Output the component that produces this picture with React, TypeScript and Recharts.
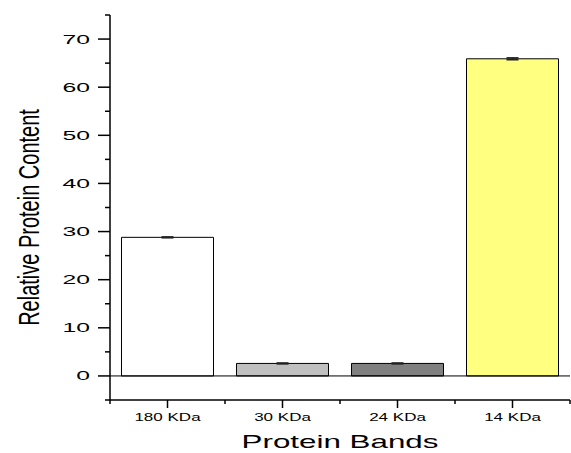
import React from "react";
import {
  BarChart,
  Bar,
  XAxis,
  YAxis,
  Cell,
  ErrorBar,
  ReferenceLine,
  Label,
} from "recharts";

const bands = ["180 KDa", "30 KDa", "24 KDa", "14 KDa"];
const content = [28.8, 2.6, 2.6, 65.9];
const errors = [0.1, 0.1, 0.1, 0.2];
const colors = ["#ffffff", "#c0c0c0", "#808080", "#ffff80"];
const yTicks = [-5, 0, 5, 10, 15, 20, 25, 30, 35, 40, 45, 50, 55, 60, 65, 70, 75];

const data = bands.map((band, i) => ({
  band,
  value: content[i],
  err: errors[i],
}));

const FONT = "'Liberation Sans', Arial, Helvetica, sans-serif";

function YTick({ x, y, payload }: any) {
  const major = payload.value % 10 === 0;
  return (
    <g>
      <line x1={x - (major ? 12 : 5)} x2={x} y1={y} y2={y} stroke="#000" strokeWidth={1.5} />
      {major && (
        <text
          transform={`translate(${x - 20},${y + 4.5}) scale(1.9,1)`}
          textAnchor="end"
          fontSize={13}
          fontFamily={FONT}
          fill="#000"
        >
          {payload.value}
        </text>
      )}
    </g>
  );
}

function XTick({ x, y, payload }: any) {
  const half = payload.offset ?? 57.5;
  const last = payload.value === bands[bands.length - 1];
  return (
    <g>
      <line x1={x} x2={x} y1={y} y2={y + 8} stroke="#000" strokeWidth={1.5} />
      <line x1={x - half} x2={x - half} y1={y} y2={y + 4} stroke="#000" strokeWidth={1.5} />
      {last && <line x1={x + half} x2={x + half} y1={y} y2={y + 4} stroke="#000" strokeWidth={1.5} />}
      <text
        transform={`translate(${x},${y + 21}) scale(1.48,1)`}
        textAnchor="middle"
        fontSize={11.5}
        fontFamily={FONT}
        fill="#000"
      >
        {payload.value}
      </text>
    </g>
  );
}

export default function App() {
  return (
    <div style={{ position: "absolute", left: 0, top: 0, background: "#fff" }}>
      <BarChart
        width={571}
        height={453}
        data={data}
        margin={{ top: 15, right: 1, bottom: 0, left: 0 }}
        barCategoryGap="10%"
      >
        <XAxis
          dataKey="band"
          height={53}
          tickSize={0}
          tickMargin={0}
          tickLine={false}
          interval={0}
          tick={<XTick />}
          axisLine={{ stroke: "#000", strokeWidth: 1.5 }}
        >
          <Label
            content={({ viewBox }: any) => (
              <text
                transform={`translate(${viewBox.x + viewBox.width / 2},${viewBox.y + 48}) scale(1.65,1)`}
                textAnchor="middle"
                fontSize={19}
                fontFamily={FONT}
                fill="#000"
              >
                Protein Bands
              </text>
            )}
          />
        </XAxis>
        <YAxis
          width={110}
          domain={[-5, 75]}
          ticks={yTicks}
          interval={0}
          tickSize={0}
          tickMargin={0}
          tickLine={false}
          tick={<YTick />}
          axisLine={{ stroke: "#000", strokeWidth: 1.5 }}
        >
          <Label
            content={({ viewBox }: any) => (
              <text
                transform={`translate(39,${viewBox.y + viewBox.height / 2 + 10}) rotate(-90) scale(1,1.5)`}
                textAnchor="middle"
                fontSize={20}
                fontFamily={FONT}
                fill="#000"
              >
                Relative Protein Content
              </text>
            )}
          />
        </YAxis>
        <ReferenceLine y={0} stroke="#000" strokeWidth={1} />
        <Bar dataKey="value" stroke="#000" strokeWidth={1} isAnimationActive={false}>
          {data.map((d, i) => (
            <Cell key={d.band} fill={colors[i]} />
          ))}
          <ErrorBar dataKey="err" width={6} stroke="#222" strokeWidth={1.5} />
        </Bar>
      </BarChart>
    </div>
  );
}
